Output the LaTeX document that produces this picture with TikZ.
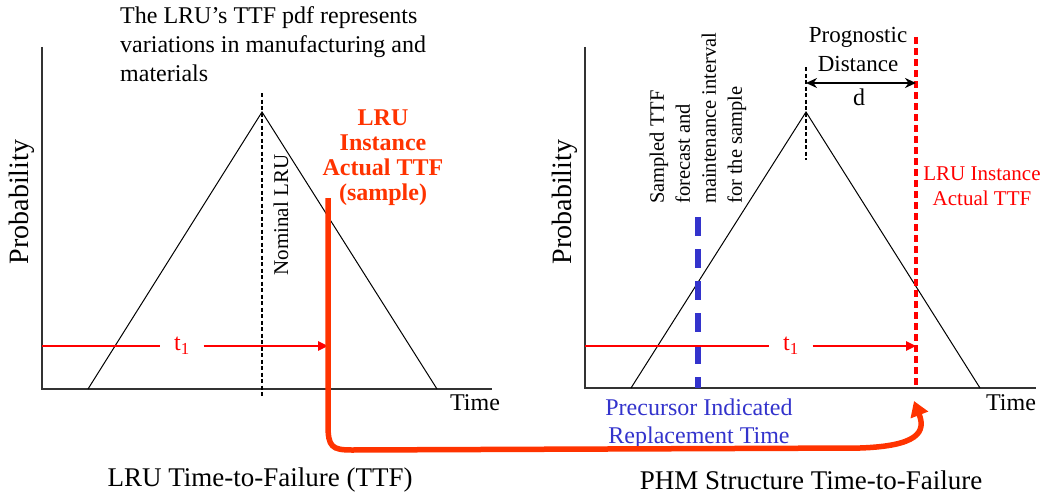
\documentclass[tikz,border=0pt]{standalone}
\usepackage{fontspec}
\setmainfont{Liberation Serif}
\usetikzlibrary{arrows.meta,positioning}

\definecolor{sampleorange}{RGB}{255,51,0}
\definecolor{ttfred}{RGB}{255,0,0}
\definecolor{precblue}{RGB}{51,51,204}

\begin{document}
\begin{tikzpicture}[x=1pt,y=-1pt,inner sep=0pt,
	node font=\fontsize{24}{28}\selectfont,
	axis/.style={draw=black!80,line width=1.5pt},
	pdf/.style={draw=black,line width=1pt},
	nominal/.style={draw=black,line width=1.8pt,dash pattern=on 4pt off 2.5pt},
	tline/.style={draw=ttfred,line width=2.4pt},
	tlabel/.style={text=ttfred,minimum width=43pt},
	sampleline/.style={draw=sampleorange,line width=5.5pt},
	actual/.style={draw=ttfred,line width=4pt,dash pattern=on 7pt off 4pt},
	replace/.style={draw=precblue,line width=5.5pt,dash pattern=on 19pt off 13pt}]
	\useasboundingbox (0,0) rectangle (1048,495);
	
	% left panel: LRU time-to-failure
	\coordinate (Y1) at (42,47);
	\coordinate (O1) at (42,389);
	\coordinate (X1) at (492,389);
	\coordinate (L1) at (88,389);
	\coordinate (P1) at (262,112);
	\coordinate (R1) at (437,389);
	\coordinate (N1top) at (262,93);
	\coordinate (N1bot) at (262,398);
	\coordinate (S1) at (42,346);
	\coordinate (act1) at (328,198);
	\coordinate (hit1) at (328,346);
	
	\draw[axis] (Y1) -- (O1) -- (X1);
	\draw[pdf] (L1) -- (P1) -- (R1);
	\draw[nominal] (N1top) -- (N1bot);
	
	\node (prob1) [rotate=90,font=\fontsize{28}{32}\selectfont] at (22,202) {Probability};
	\node (time1) [font=\fontsize{24}{28}\selectfont] at (475,403) {Time};
	\node (nomlru) [rotate=90,font=\fontsize{21}{25}\selectfont] at (281,215) {Nominal LRU};
	\node (pdftext) [anchor=north west,align=left,font=\fontsize{24}{29}\selectfont] at (120,6)
		{The LRU’s TTF pdf represents\\variations in manufacturing and\\materials};
	\node (sampletext) [anchor=north,align=center,text=sampleorange,font=\fontsize{24}{25}\selectfont\bfseries] at (383,110)
		{LRU\\Instance\\Actual TTF\\(sample)};
	\node (t1a) [tlabel] at (182,346) {t\textsubscript{1}};
	\node (cap1) [font=\fontsize{27}{31}\selectfont] at (260,480) {LRU Time-to-Failure (TTF)};
	
	\draw[tline] (S1) -- (t1a.west);
	\draw[tline,-{Triangle[length=10pt,width=9pt]}] (t1a.east) -- (hit1);
	
	% right panel: PHM structure time-to-failure
	\coordinate (Y2) at (585,47);
	\coordinate (O2) at (585,388);
	\coordinate (X2) at (1036,388);
	\coordinate (L2) at (631,388);
	\coordinate (P2) at (806,112);
	\coordinate (R2) at (980,388);
	\coordinate (N2top) at (806,67);
	\coordinate (N2bot) at (806,160);
	\coordinate (A2top) at (916,37);
	\coordinate (A2bot) at (916,388);
	\coordinate (B2top) at (698,217);
	\coordinate (B2bot) at (698,388);
	\coordinate (S2) at (585,346);
	\coordinate (hit2) at (916,346);
	\coordinate (dl) at (806,83);
	\coordinate (dr) at (916,83);
	\coordinate (act2) at (914,401);
	
	\draw[axis] (Y2) -- (O2) -- (X2);
	\draw[pdf] (L2) -- (P2) -- (R2);
	\draw[nominal] (N2top) -- (N2bot);
	\draw[actual] (A2top) -- (A2bot);
	\draw[replace] (B2top) -- (B2bot);
	\draw[line width=2.4pt,{Stealth[length=11pt,width=10pt]}-{Stealth[length=11pt,width=10pt]}] (dl) -- (dr);
	
	\node (prob2) [rotate=90,font=\fontsize{28}{32}\selectfont] at (565,202) {Probability};
	\node (time2) [font=\fontsize{24}{28}\selectfont] at (1011,403) {Time};
	\node (progdist) [anchor=north,align=center,font=\fontsize{23}{29}\selectfont] at (858,27) {Prognostic\\Distance};
	\node (dlabel) [anchor=base] at (859,105) {d};
	\node (forecast) [rotate=90,anchor=west,align=left,font=\fontsize{20.5}{26}\selectfont] at (698,204)
		{Sampled TTF\\forecast and\\maintenance interval\\for the sample};
	\node (actualtext) [anchor=north,align=center,text=ttfred,font=\fontsize{21}{25}\selectfont] at (982,167)
		{LRU Instance\\Actual TTF};
	\node (prectext) [anchor=north,align=center,text=precblue,font=\fontsize{24}{28}\selectfont] at (699,399)
		{Precursor Indicated\\Replacement Time};
	\node (t1b) [tlabel] at (791,346) {t\textsubscript{1}};
	\node (cap2) [font=\fontsize{27}{31}\selectfont] at (811,480) {PHM Structure Time-to-Failure};
	
	\draw[tline] (S2) -- (t1b.west);
	\draw[tline,-{Triangle[length=10pt,width=9pt]}] (t1b.east) -- (hit2);
	
	% sample carried over to the PHM picture
	\draw[sampleline,-{Triangle[length=15pt,width=18pt]}] (act1) -- (328,425)
		.. controls (328,447) and (332,450) .. (352,450) -- (860,448)
		.. controls (918,446) and (926,432) .. (act2);
\end{tikzpicture}
\end{document}
